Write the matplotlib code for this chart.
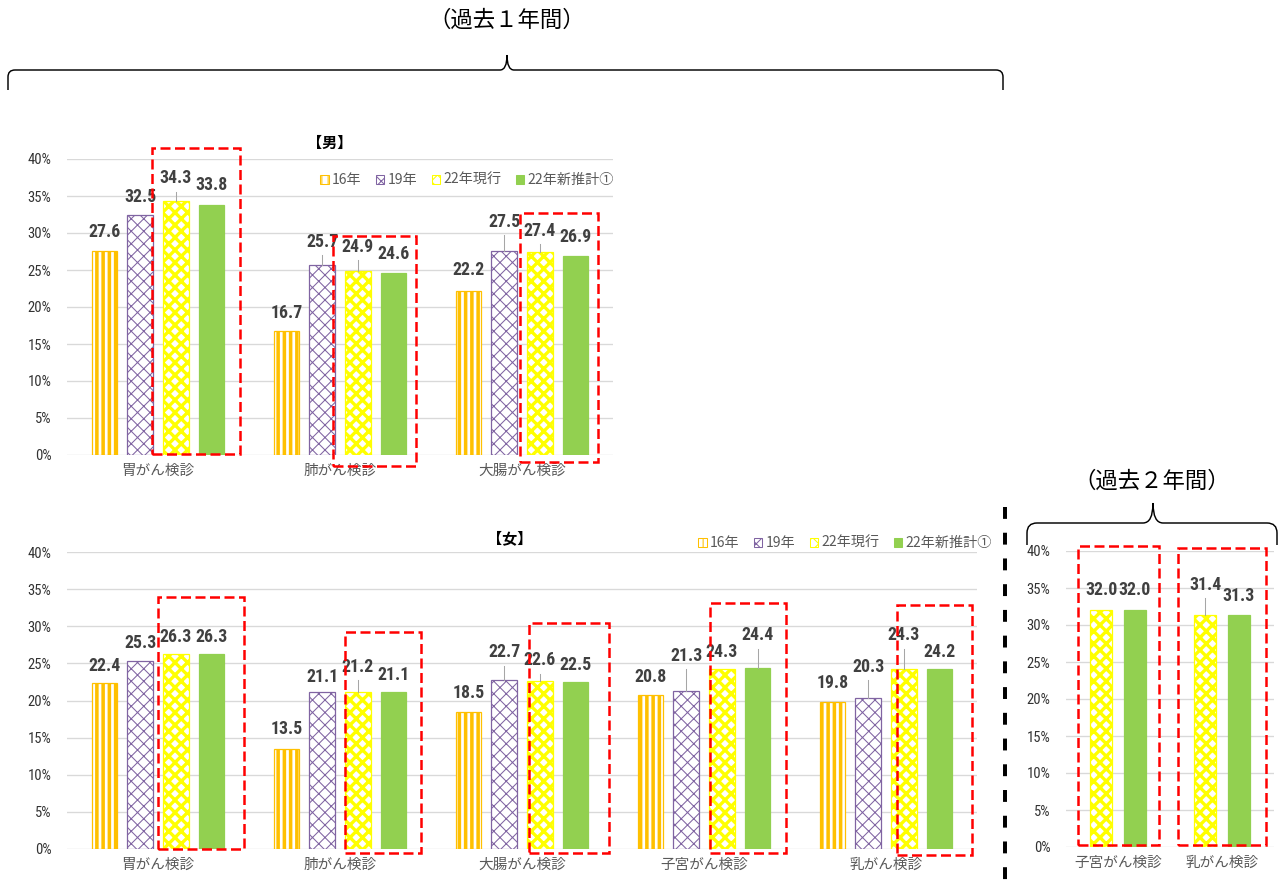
import matplotlib
matplotlib.use('Agg')
import matplotlib.pyplot as plt
from matplotlib import font_manager
from matplotlib.patches import Patch, Rectangle, PathPatch
from matplotlib.path import Path
from matplotlib.lines import Line2D
from matplotlib.transforms import Affine2D

# ---------------- data ----------------
series_names = ['16年', '19年', '22年現行', '22年新推計①']

male_cats = ['胃がん検診', '肺がん検診', '大腸がん検診']
male_16 = [27.6, 16.7, 22.2]
male_19 = [32.5, 25.7, 27.5]
male_22 = [34.3, 24.9, 27.4]
male_22new = [33.8, 24.6, 26.9]

female_cats = ['胃がん検診', '肺がん検診', '大腸がん検診', '子宮がん検診', '乳がん検診']
female_16 = [22.4, 13.5, 18.5, 20.8, 19.8]
female_19 = [25.3, 21.1, 22.7, 21.3, 20.3]
female_22 = [26.3, 21.2, 22.6, 24.3, 24.3]
female_22new = [26.3, 21.1, 22.5, 24.4, 24.2]

two_year_cats = ['子宮がん検診', '乳がん検診']
two_year_22 = [32.0, 31.4]
two_year_22new = [32.0, 31.3]

y_ticks = [0, 5, 10, 15, 20, 25, 30, 35, 40]
y_tick_labels = ['0%', '5%', '10%', '15%', '20%', '25%', '30%', '35%', '40%']

# ---------------- layout / style ----------------
W, H, DPI = 1285, 884, 75
CJK = ['Noto Sans CJK JP', 'DejaVu Sans']
plt.rcParams['font.family'] = CJK


def first_font(cands):
    for c in cands:
        try:
            font_manager.findfont(font_manager.FontProperties(family=c), fallback_to_default=False)
            return c
        except Exception:
            pass
    return 'DejaVu Sans'


NARROW = first_font(['Liberation Sans Narrow', 'Arial Narrow', 'Roboto Condensed', 'DejaVu Sans'])

styles = {
    '16年': dict(face='white', edge='#FFC000', hatch='||', hlw=3.4),
    '19年': dict(face='white', edge='#8064A2', hatch='xx', hlw=1.0),
    '22年現行': dict(face='white', edge='#FFFF00', hatch='xx', hlw=3.2),
    '22年新推計①': dict(face='#92D050', edge='#92D050', hatch=None, hlw=1.0),
}

fig = plt.figure(figsize=(W / DPI, H / DPI), dpi=DPI)
pix = Affine2D().scale(1.0 / W, -1.0 / H).translate(0, 1) + fig.transFigure


def add_ax(l, r, t, b):
    return fig.add_axes([l / W, 1 - b / H, (r - l) / W, (b - t) / H])


def setup_axis(ax, cats):
    ax.set_xlim(-0.5, len(cats) - 0.5)
    ax.set_ylim(0, 40)
    ax.set_yticks(y_ticks)
    ax.set_yticklabels(y_tick_labels, fontfamily=NARROW, fontsize=14, color='#333333')
    ax.set_xticks(range(len(cats)))
    ax.set_xticklabels(cats, fontsize=14, color='#595959')
    ax.tick_params(axis='both', length=0)
    ax.tick_params(axis='y', pad=15)
    ax.tick_params(axis='x', pad=8)
    for s in ax.spines.values():
        s.set_visible(False)
    ax.grid(axis='y', color='#d9d9d9', lw=1.3)
    ax.set_axisbelow(True)


def draw_series(ax, name, values, offset, width, label_offs, leaders):
    st = styles[name]
    xs = [i + offset for i in range(len(values))]
    with plt.rc_context({'hatch.linewidth': st['hlw']}):
        bars = ax.bar(xs, values, width=width, facecolor=st['face'], edgecolor=st['edge'],
                      hatch=st['hatch'], linewidth=1.2, zorder=2)
    for p in bars:
        if hasattr(p, 'set_hatch_linewidth'):
            p.set_hatch_linewidth(st['hlw'])
    for x, v, lo, ld in zip(xs, values, label_offs, leaders):
        ax.text(x, v + lo, f'{v:.1f}', ha='center', va='center', fontfamily=NARROW,
                fontweight='bold', fontsize=17, color='#404040', zorder=5, clip_on=False)
        if ld:
            ax.plot([x, x], [v + lo - 1.8, v], color='#a6a6a6', lw=1.0, zorder=4, clip_on=False)


def red_boxes(ax, boxes):
    for i, (l, r, b, t) in enumerate(boxes):
        ax.add_patch(Rectangle((i + l, b), r - l, t - b, fill=False, edgecolor='#FF0000',
                               lw=2.4, ls=(0, (4, 1.8)), clip_on=False, zorder=6))


def legend_at(xr, yc):
    handles = [Patch(facecolor=styles[n]['face'], edgecolor=styles[n]['edge'],
                     hatch=styles[n]['hatch'], lw=1) for n in series_names]
    fig.legend(handles, series_names, loc='center right', bbox_to_anchor=(xr / W, 1 - yc / H),
               ncol=4, frameon=False, fontsize=13.5, handlelength=0.6, handleheight=0.6,
               handletextpad=0.25, columnspacing=1.0, labelcolor='#595959', borderaxespad=0,
               borderpad=0)


def brace(x0, x1, xm, y_line, y_tip, y_end, r):
    verts = [(x0, y_end), (x0, y_line + r), (x0, y_line), (x0 + r, y_line),
             (xm - r, y_line), (xm, y_line), (xm, y_tip),
             (xm, y_line), (xm + r, y_line),
             (x1 - r, y_line), (x1, y_line), (x1, y_line + r), (x1, y_end)]
    codes = [Path.MOVETO, Path.LINETO, Path.CURVE3, Path.CURVE3,
             Path.LINETO, Path.CURVE3, Path.CURVE3,
             Path.CURVE3, Path.CURVE3,
             Path.LINETO, Path.CURVE3, Path.CURVE3, Path.LINETO]
    fig.add_artist(PathPatch(Path(verts, codes), transform=pix, fill=False,
                             edgecolor='black', lw=1.4))


# ---------------- 男 ----------------
ax1 = add_ax(67, 613, 159, 455)
setup_axis(ax1, male_cats)
off4 = [-0.295, -0.098, 0.098, 0.295]
bw4 = 0.14
draw_series(ax1, '16年', male_16, off4[0], bw4, [2.6, 2.5, 2.8], [0, 0, 0])
draw_series(ax1, '19年', male_19, off4[1], bw4, [2.4, 3.1, 4.0], [0, 1, 1])
draw_series(ax1, '22年現行', male_22, off4[2], bw4, [3.1, 3.2, 2.9], [1, 1, 1])
draw_series(ax1, '22年新推計①', male_22new, off4[3], bw4, [2.7, 2.6, 2.6], [0, 0, 0])
red_boxes(ax1, [(-0.033, 0.45, 0.1, 41.5), (-0.04, 0.42, -1.5, 29.6), (-0.01, 0.42, -0.9, 32.7)])
fig.text(330 / W, 1 - 143 / H, '【男】', ha='center', va='center', fontsize=14.5, fontweight='bold')
legend_at(614, 180)

# ---------------- 女 ----------------
ax2 = add_ax(67, 977, 552, 849)
setup_axis(ax2, female_cats)
draw_series(ax2, '16年', female_16, off4[0], bw4, [2.25, 2.6, 2.5, 2.4, 2.6], [0, 0, 0, 0, 0])
draw_series(ax2, '19年', female_19, off4[1], bw4, [2.4, 2.0, 3.8, 4.7, 4.2], [0, 0, 1, 1, 1])
draw_series(ax2, '22年現行', female_22, off4[2], bw4, [2.25, 3.3, 2.8, 2.2, 4.5], [0, 1, 1, 0, 1])
draw_series(ax2, '22年新推計①', female_22new, off4[3], bw4, [2.25, 2.3, 2.3, 4.4, 2.3], [0, 0, 0, 1, 0])
red_boxes(ax2, [(0.0, 0.47, 0.0, 33.9), (0.027, 0.445, -0.5, 29.2), (0.04, 0.48, -0.5, 30.4),
                (0.033, 0.45, -0.5, 33.1), (0.06, 0.47, -0.8, 32.9)])
fig.text(510 / W, 1 - 538 / H, '【女】', ha='center', va='center', fontsize=14.5, fontweight='bold')
legend_at(992, 543)

# ---------------- 過去2年間 ----------------
ax3 = add_ax(1066, 1274, 551, 847)
setup_axis(ax3, two_year_cats)
draw_series(ax3, '22年現行', two_year_22, -0.163, 0.22, [2.7, 4.0], [0, 1])
draw_series(ax3, '22年新推計①', two_year_22new, 0.163, 0.22, [2.7, 2.6], [0, 0])
red_boxes(ax3, [(-0.385, 0.394, 0.3, 40.7), (-0.423, 0.423, 0.3, 40.4)])

# ---------------- annotations ----------------
fig.text(507 / W, 1 - 20 / H, '（過去１年間）', ha='center', va='center', fontsize=21.5)
fig.text(1152 / W, 1 - 481 / H, '（過去２年間）', ha='center', va='center', fontsize=21.5)
brace(8, 1003, 507, 70, 55, 90, 7)
brace(1027, 1277, 1153, 523, 503, 545, 10)
fig.add_artist(Line2D([1005 / W, 1005 / W], [1 - 507 / H, 0], transform=fig.transFigure,
                      color='black', lw=3.8, ls=(0, (3, 3.5))))

fig.savefig('out.png', dpi=DPI, facecolor='white')
